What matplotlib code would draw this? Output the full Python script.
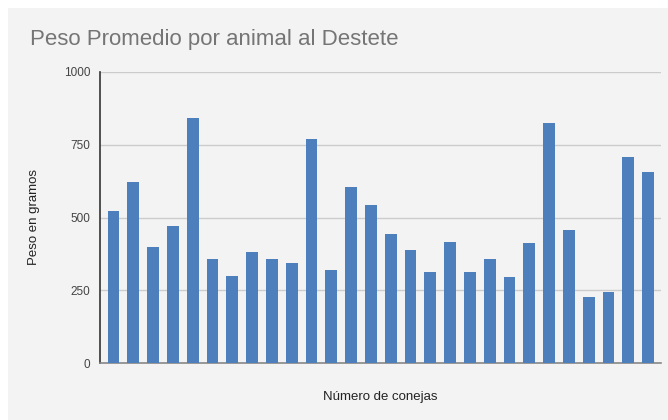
import matplotlib
matplotlib.use("Agg")
import matplotlib.pyplot as plt
from matplotlib.patches import Rectangle

title = "Peso Promedio por animal al Destete"
x_label = "Número de conejas"
y_label = "Peso en gramos"
weights = [523, 621, 398, 470, 841, 358, 299, 381, 358, 345, 771, 320, 605, 542,
           443, 388, 311, 415, 311, 357, 296, 411, 825, 458, 226, 244, 709, 655]
y_ticks = [0, 250, 500, 750, 1000]

W, H = 668, 420
plt.rcParams["font.family"] = ["Liberation Sans", "DejaVu Sans"]
fig = plt.figure(figsize=(W / 100, H / 100), dpi=100, facecolor="white")
fig.patches.append(Rectangle((8 / W, 0), 1 - 8 / W, (H - 8) / H, transform=fig.transFigure,
                             facecolor="#f3f3f3", edgecolor="none", zorder=-10))

ax = fig.add_axes([100 / W, (H - 363) / H, 561 / W, (363 - 72) / H])
ax.set_zorder(5)
ax.set_facecolor("#f3f3f3")
x = list(range(len(weights)))
ax.bar(x, weights, width=0.59, color="#4d7fbd", zorder=3)
ax.set_xlim(-0.68, len(weights) - 0.35)
ax.set_ylim(0, 1000)
ax.set_yticks(y_ticks)
ax.set_yticklabels([str(v) for v in y_ticks], fontsize=8.5, color="#444444")
ax.tick_params(axis="y", length=0, pad=7)
ax.set_xticks([])
ax.grid(axis="y", color="#cccccc", linewidth=1, zorder=0)
for s in ["top", "right"]:
    ax.spines[s].set_visible(False)
ax.spines["left"].set_color("#333333")
ax.spines["left"].set_linewidth(1.2)
ax.spines["bottom"].set_color("#888888")
ax.spines["bottom"].set_linewidth(1.2)

fig.text(30 / W, 1 - 40 / H, title, fontsize=16, color="#757575", va="center", ha="left")
fig.text(380 / W, 1 - 397 / H, x_label, fontsize=9.5, color="#222222", ha="center", va="center")
fig.text(34 / W, 1 - 217 / H, y_label, fontsize=9.5, color="#222222", ha="center", va="center",
         rotation=90)

fig.savefig("out.png", dpi=100, facecolor="white")
